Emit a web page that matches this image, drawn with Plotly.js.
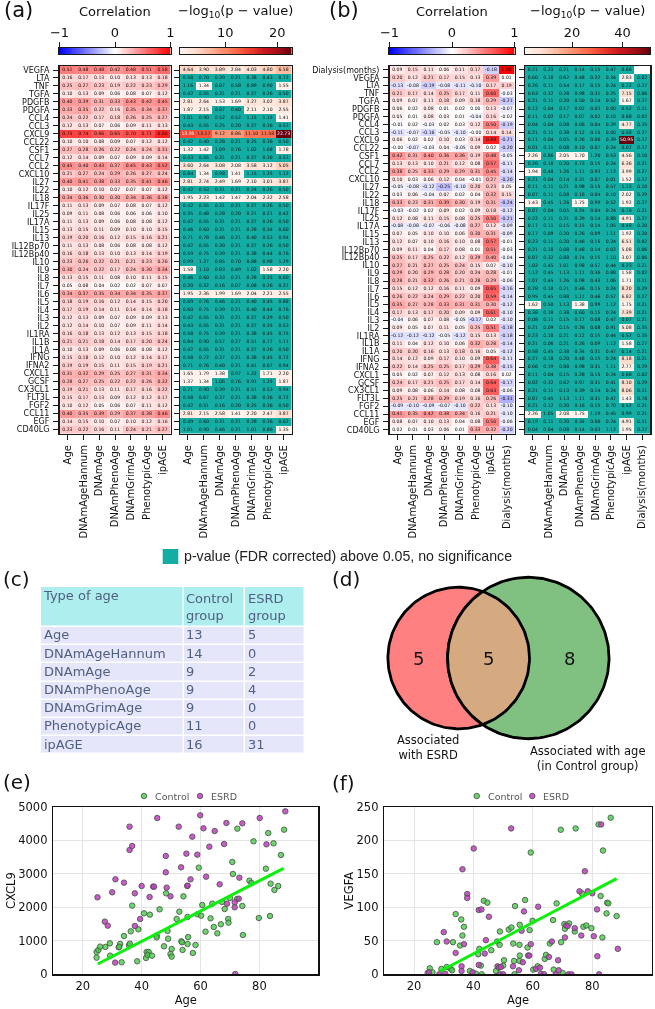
<!DOCTYPE html>
<html><head><meta charset="utf-8">
<script src="https://cdn.plot.ly/plotly-3.0.1.min.js"></script>
<style>html,body{margin:0;padding:0;background:#fff}#g{width:655px;height:1009px}.main-svg{will-change:transform}</style>
</head><body><div id="g"></div>
<script>
const ageCols=["Age","DNAmAgeHannum","DNAmAge","DNAmPhenoAge","DNAmGrimAge","PhenotypicAge","ipAGE"];
const ageColsB=ageCols.concat(["Dialysis(months)"]);
const rowsA=["VEGFA","LTA","TNF","TGFA","PDGFB","PDGFA","CCL4","CCL3","CXCL9","CCL22","CSF1","CCL7","CCL2","CXCL10","IL27","IL22","IL18","IL17F","IL25","IL17A","IL15","IL13","IL12Bp70","IL12Bp40","IL10","IL9","IL8","IL7","IL6","IL5","IL4","IL3","IL2","IL1RA","IL1B","IL1A","IFNG","IFNA2","CXCL1","GCSF","CX3CL1","FLT3L","FGF2","CCL11","EGF","CD40LG"];
const rowsB=["Dialysis(months)","VEGFA","LTA","TNF","TGFA","PDGFB","PDGFA","CCL4","CCL3","CXCL9","CCL22","CSF1","CCL7","CCL2","CXCL10","IL27","IL22","IL18","IL17F","IL25","IL17A","IL15","IL13","IL12Bp70","IL12Bp40","IL10","IL9","IL8","IL7","IL6","IL5","IL4","IL3","IL2","IL1RA","IL1B","IL1A","IFNG","IFNA2","CXCL1","GCSF","CX3CL1","FLT3L","FGF2","CCL11","EGF","CD40LG"];
const corrA=[[.51,.48,.48,.42,.48,.51,.58],[.16,.17,.13,.10,.13,.13,.18],[.25,.27,.23,.19,.22,.23,.29],[.10,.13,.09,.06,.08,.07,.12],[.40,.39,.31,.33,.43,.42,.45],[.33,.35,.22,.16,.35,.34,.37],[.24,.22,.17,.18,.26,.25,.27],[.12,.13,.07,.06,.09,.11,.13],[.75,.74,.66,.65,.70,.71,.86],[.10,.10,.08,.09,.07,.12,.12],[.27,.28,.26,.22,.24,.24,.31],[.12,.14,.09,.07,.09,.09,.14],[.45,.40,.43,.37,.45,.43,.52],[.21,.27,.24,.29,.26,.27,.24],[.40,.41,.38,.33,.35,.41,.46],[.10,.12,.10,.07,.07,.07,.12],[.34,.36,.30,.30,.34,.36,.38],[.11,.13,.09,.07,.08,.07,.12],[.09,.11,.08,.06,.06,.06,.10],[.11,.13,.09,.06,.08,.08,.12],[.13,.15,.11,.09,.10,.10,.15],[.19,.20,.16,.12,.15,.16,.21],[.11,.13,.08,.06,.08,.08,.12],[.16,.18,.13,.10,.13,.14,.19],[.23,.26,.22,.21,.21,.23,.26],[.30,.24,.22,.17,.24,.30,.34],[.13,.15,.11,.08,.10,.11,.15],[.05,.08,.04,.02,.02,.07,.07],[.34,.37,.35,.34,.34,.35,.37],[.18,.19,.16,.12,.14,.15,.20],[.17,.19,.14,.11,.14,.14,.18],[.12,.13,.09,.07,.09,.09,.13],[.12,.14,.10,.07,.09,.11,.14],[.16,.18,.13,.12,.13,.15,.18],[.21,.21,.18,.14,.17,.20,.24],[.10,.13,.09,.06,.08,.08,.12],[.15,.18,.12,.10,.12,.14,.17],[.19,.19,.15,.11,.15,.19,.21],[.31,.32,.29,.25,.27,.31,.34],[.28,.27,.25,.22,.22,.26,.32],[.19,.21,.13,.11,.17,.16,.22],[.15,.17,.13,.09,.12,.12,.17],[.10,.12,.05,.06,.07,.11,.12],[.40,.35,.39,.29,.37,.38,.46],[.14,.15,.10,.07,.10,.12,.16],[.23,.22,.16,.11,.24,.21,.27]];
const pA=[[4.64,3.90,3.89,2.84,4.03,4.80,6.58],[.58,.70,.39,.21,.38,.43,.72],[1.16,1.34,.87,.58,.89,.90,1.55],[.42,.55,.31,.21,.27,.26,.50],[2.81,2.64,1.53,1.69,3.27,3.02,3.87],[1.87,2.15,.87,.40,2.11,2.10,2.55],[1.01,.90,.52,.52,1.15,1.15,1.41],[.43,.55,.25,.20,.27,.36,.53],[13.95,13.17,9.12,8.86,11.10,11.58,22.73],[.42,.40,.28,.21,.25,.36,.50],[1.32,1.42,1.09,.76,1.02,1.08,1.78],[.43,.55,.31,.21,.27,.30,.53],[3.60,2.64,3.08,2.08,3.58,3.12,5.05],[.84,1.34,.98,1.41,1.15,1.25,1.12],[2.81,2.74,2.49,1.69,2.10,3.01,3.87],[.42,.53,.31,.21,.24,.26,.50],[1.95,2.23,1.42,1.47,2.04,2.32,2.58],[.42,.55,.31,.21,.27,.26,.50],[.35,.48,.28,.20,.21,.21,.42],[.42,.55,.31,.21,.27,.26,.50],[.46,.60,.31,.21,.28,.34,.60],[.71,.78,.46,.21,.40,.53,.94],[.42,.55,.30,.21,.27,.26,.50],[.59,.75,.39,.21,.38,.44,.76],[.99,1.27,.85,.70,.88,.98,1.29],[1.58,1.10,.83,.49,1.02,1.58,2.20],[.46,.60,.33,.21,.28,.35,.60],[.20,.32,.16,.07,.08,.26,.27],[1.95,2.36,1.99,1.69,2.04,2.21,2.55],[.69,.76,.46,.21,.40,.45,.88],[.60,.75,.39,.21,.40,.44,.76],[.42,.55,.31,.21,.27,.29,.50],[.43,.55,.31,.21,.27,.35,.53],[.58,.75,.39,.21,.38,.45,.75],[.84,.90,.57,.27,.51,.77,1.11],[.42,.55,.31,.21,.27,.26,.50],[.58,.72,.37,.21,.38,.45,.72],[.71,.76,.40,.21,.41,.67,.94],[1.65,1.79,1.38,.97,1.22,1.71,2.20],[1.37,1.34,1.06,.76,.91,1.25,1.87],[.71,.90,.39,.21,.51,.53,.94],[.58,.67,.37,.21,.38,.36,.72],[.42,.51,.16,.20,.25,.36,.50],[2.81,2.15,2.58,1.41,2.20,2.47,3.87],[.49,.60,.31,.21,.28,.36,.62],[1.01,.90,.46,.21,1.01,.86,1.35]];
const corrB=[[.09,.15,.11,.06,.11,.17,-.18,1.00],[.20,.12,.21,.17,.15,.13,.39,.01],[-.13,-.08,-.19,-.08,-.11,-.10,.17,.19],[.21,.17,.14,.25,.17,.11,.60,-.03],[.09,.07,.11,.18,.09,.18,.29,-.21],[.06,.02,.08,.01,.02,.00,.13,-.07],[.05,.01,.08,.03,.01,-.04,.16,-.02],[-.01,.02,-.03,.02,.03,.12,.50,-.19],[-.11,-.07,-.16,-.05,-.10,-.001,.14,.14],[.06,.02,.02,.10,.03,.14,.88,-.21],[-.001,-.07,-.03,.04,-.05,.09,.02,-.20],[.42,.31,.40,.36,.36,.19,.48,-.05],[.13,.13,.10,.21,.12,.08,.57,-.11],[.38,.25,.33,.29,.29,.31,.45,-.14],[.10,.03,.06,.12,.04,-.01,.27,-.20],[-.05,-.08,-.12,-.25,-.10,.20,.23,.05],[.03,.06,-.04,.07,.02,.04,.32,.15],[.33,.23,.31,.39,.30,.19,.31,-.24],[-.03,-.02,.02,.09,.02,.09,.18,-.12],[.12,.08,.11,.15,.08,.25,.50,-.21],[-.08,-.08,-.07,-.06,-.08,.27,.12,-.09],[.07,.05,.10,.10,.06,.30,.31,-.09],[.12,.07,.10,.16,.10,.08,.57,-.01],[.09,.11,.04,.17,.08,.01,.51,-.03],[.25,.17,.25,.22,.12,.29,.40,-.04],[.27,.21,.27,.25,.24,.15,.07,-.10],[.29,.20,.29,.28,.20,.24,.28,-.01],[.28,.21,.32,.26,.21,.28,.29,-.06],[.15,.12,.12,.16,.11,.09,.65,-.16],[.26,.22,.24,.29,.22,.20,.59,-.14],[.35,.27,.28,.33,.31,.31,.30,-.12],[.17,.13,.17,.20,.09,.09,.61,-.10],[-.04,.06,.07,.08,-.05,-.17,.02,-.10],[.09,.05,.07,.11,.05,.25,.51,-.18],[-.12,-.12,-.12,-.05,-.12,.15,.13,-.18],[.11,.04,.12,.10,.06,.32,.28,-.14],[.20,.20,.16,.13,.18,.16,.05,-.12],[.14,.12,.09,.17,.10,.09,.64,-.11],[.22,.14,.25,.25,.17,.29,.38,-.15],[.05,.02,.07,.12,.13,.08,.16,.02],[.24,.17,.21,.25,.17,.14,.64,-.17],[.09,.08,.06,.14,.08,.08,.63,-.06],[.25,.21,.28,.29,.19,.16,.26,-.31],[-.09,-.10,-.09,-.07,-.10,.22,.13,-.10],[.41,.35,.42,.38,.34,.16,.21,-.10],[.08,.07,.10,.13,.04,.08,.50,-.06],[.02,.01,.03,.06,.01,.33,.32,-.20]];
const pB=[[.21,.23,.21,.14,.15,.47,.68,null],[.60,.18,.62,.48,.22,.34,2.83,.02],[.26,.11,.54,.17,.15,.24,.72,.37],[.63,.32,.28,.98,.31,.25,7.15,.06],[.21,.11,.20,.50,.14,.52,1.67,.37],[.12,.04,.17,.02,.03,.00,.52,.11],[.11,.02,.17,.07,.02,.10,.68,.02],[.04,.04,.08,.06,.04,.29,4.77,.35],[.21,.11,.38,.12,.15,.00,.58,.27],[.11,.04,.05,.26,.06,.39,50.95,.37],[.01,.11,.08,.10,.07,.24,.07,.37],[2.26,.86,2.05,1.70,1.20,.53,4.56,.10],[.26,.18,.20,.73,.15,.24,6.36,.21],[1.94,.48,1.26,1.11,.93,1.12,3.99,.27],[.21,.04,.14,.31,.07,.01,1.52,.37],[.11,.11,.21,.98,.15,.57,1.13,.10],[.07,.11,.08,.16,.04,.10,2.02,.29],[1.43,.45,1.26,1.75,.99,.52,1.92,.37],[.07,.04,.05,.24,.04,.24,.76,.21],[.22,.11,.21,.39,.14,.88,4.91,.37],[.17,.11,.15,.15,.14,1.05,.48,.20],[.17,.09,.20,.26,.09,1.11,1.92,.20],[.23,.11,.20,.46,.15,.24,6.51,.02],[.21,.18,.08,.48,.14,.02,5.08,.06],[.87,.32,.88,.74,.15,1.10,3.07,.06],[1.02,.45,1.01,.98,.57,.44,.23,.21],[1.12,.45,1.13,1.11,.36,.88,1.58,.02],[1.07,.45,1.26,.98,.43,1.06,1.71,.11],[.28,.18,.21,.46,.15,.24,8.20,.29],[.95,.45,.88,1.11,.46,.57,6.82,.27],[1.62,.50,1.13,1.38,.99,1.12,1.75,.21],[.38,.18,.38,.60,.15,.24,7.39,.21],[.08,.11,.15,.17,.08,.47,.07,.21],[.21,.09,.15,.26,.08,.91,5.08,.35],[.23,.18,.21,.12,.15,.44,.52,.35],[.21,.06,.21,.26,.09,1.12,1.58,.27],[.58,.45,.38,.34,.31,.47,.14,.21],[.27,.18,.20,.48,.15,.24,8.18,.21],[.66,.19,.88,.98,.31,1.11,2.77,.29],[.11,.04,.15,.28,.15,.24,.68,.02],[.82,.32,.62,.97,.31,.41,8.10,.29],[.21,.11,.13,.39,.14,.24,8.06,.11],[.87,.45,1.13,1.11,.31,.47,1.43,.78],[.21,.12,.20,.16,.15,.70,.52,.21],[2.26,1.05,2.08,1.75,1.19,.45,.99,.21],[.19,.11,.20,.34,.06,.24,4.91,.11],[.04,.04,.08,.14,.03,1.12,1.95,.37]];
const tableAges=["Age","DNAmAgeHannum","DNAmAge","DNAmPhenoAge","DNAmGrimAge","PhenotypicAge","ipAGE"];
const tableControl=[13,14,9,9,9,11,16];
const tableESRD=[5,0,2,4,0,0,31];
const tableHeader=["Type of age","Control<br>group","ESRD<br>group"];
const vennCounts=[5,5,8];
const eCtlAge=[24.7,24.7,25.3,25.9,27.7,29.2,29.3,32.2,32.7,32.4,33.2,34,35.7,36,36.3,36.8,38.5,38.9,40.8,41.5,41.7,42.4,42,42.8,43.5,45.1,45.1,46.1,47.6,48.3,48.8,49,49.8,50.2,50.2,51.9,52.8,53.5,53.7,53.9,54.2,55.6,55.6,55.8,57.4,58.3,59,59.4,60.2,60.6,61.7,63.4,64,64.5,65.7,66.9,67.3,68.2,69.4,69.5,70,70.8,71,72.4,72.5,74.2,74.4,78,76.6,77.3,79.8,82.2,83,83.8,83.6,84.8,85.1,86.4,87.3,88.4];
const eCtlVal=[498,667,727,827,817,926,558,807,906,820,359,1145,867,916,1285,2052,388,1345,1823,488,667,667,578,1783,558,1155,1105,1942,837,2420,1295,1066,608,757,528,1653,1872,986,956,727,2330,906,1713,1115,637,876,1793,3187,1753,2072,1275,1673,2112,1414,1225,1494,2161,1952,1653,1544,2281,3357,2998,2251,4353,2042,1175,3975,2799,2729,1683,3157,4223,2709,1743,3914,2520,2639,3566,4323];
const eEsrdAge=[25,27.5,28.5,30,31,31.1,34,35.9,35.9,36.8,37.7,37.7,39.5,40,42.7,43.9,44.2,45.3,48.2,48.2,48.5,49.8,52.6,53.4,55.2,55.5,55.6,56.6,57.2,58.9,59.9,61,61.9,63,64.8,66.5,68,68.8,69,71.6,71.6,71.8,73,73.2,74.2,80.1,82.4,88.8];
const eEsrdVal=[2300,1574,1454,2450,349,2839,2739,3715,4412,3834,2420,1444,1653,2639,2310,2620,2620,4671,3536,3048,2590,2330,4412,3197,3606,2640,2650,2839,4114,3576,4751,4363,2918,3815,4283,2689,3894,4522,2112,2151,2002,10,2261,2888,4512,4671,3884,4870];
const eFitAge=[25.1,88.2];
const eFitVal=[309,3167];
const fCtlAge=[25.3,24.6,26.2,27.7,29.2,31,32.4,32.8,33.1,34,35.5,35.9,36.3,36.8,38.8,40.8,41.6,42,42.5,42.8,43.5,44.7,46,47.6,48,48.8,48.9,50,50.3,51.9,52.8,53.4,53.7,53.8,54,55.5,55.5,55.6,55.6,57.4,58.2,58.9,59.3,60.1,59.9,61.6,64,64.4,65.7,66.8,67,68,69.5,69.4,70,70.6,70.8,72.2,74.1,74.4,76.5,77,78,79.7,82.1,82.8,83.6,83.4,84.8,85,85.4,86.2,88.2];
const fCtlVal=[9,2,3,48,8,11,8,6,48,90,43,82,58,71,5,1,30,38,13,0,110,107,36,5,49,44,64,13,21,67,70,46,20,0,102,20,44,74,28,111,40,66,182,7,80,12,23,29,46,81,7,106,48,216,2,75,68,76,64,218,121,71,73,69,224,117,185,55,91,107,106,234,87];
const fEsrdAge=[25,28.5,30,31,30.5,34,36,36,36.3,36.8,37.9,37.9,39.7,40.1,41.8,42.7,41.8,43.8,44.2,45.2,48.1,48.6,49.2,48.9,50,52.7,53.3,55.3,56.2,56.6,57,58.4,58.8,59.3,61,61.8,62.4,62.7,63.8,65.4,66.4,68.5,68.7,67.7,70.8,71.2,71.7,72,73,74.1,75.7,76.3,77.5,78.5,80,80.5,81.6,81.7,82.3,83,88.6];
const fEsrdVal=[3,0,63,49,1,32,12,5,157,45,120,114,3,188,96,97,14,31,51,86,12,10,11,0,0,218,12,6,65,18,94,28,28,45,8,101,10,1,0,26,49,21,6,0,55,73,72,0,0,69,124,58,154,124,121,57,97,27,0,224,38];
const fFitAge=[28.8,88.2];
const fFitVal=[4.5,143];

const W=655,H=1009,P_MIN=1.3,TEAL='#14ada4',INK='#1a1a1a',FONT='"DejaVu Sans"';
const REDS=['#fff5f0','#fee0d2','#fcbba1','#fc9272','#fb6a4a','#ef3b2c','#cb181d','#a50f15','#67000d'];
const BWR=[[0,'#0000ff'],[.5,'#ffffff'],[1,'#ff0000']];
const GREEN_FILL='rgba(70,205,70,.8)',PURPLE_FILL='rgba(195,60,195,.85)',MARK_EDGE='rgba(75,85,75,.85)';
const X=p=>p/W, Y=p=>1-p/H;
const layout={width:W,height:H,margin:{l:0,r:0,t:0,b:0},paper_bgcolor:'#fff',plot_bgcolor:'#fff',font:{family:FONT,color:'#111',size:10},annotations:[],shapes:[],hovermode:false,showlegend:false};
const traces=[];
let axN=0;
function axes(l,r,t,b,xo,yo){axN++;const s=axN===1?'':axN;
 layout['xaxis'+s]=Object.assign({domain:[X(l),X(r)],anchor:'y'+s,fixedrange:true},xo);
 layout['yaxis'+s]=Object.assign({domain:[Y(b),Y(t)],anchor:'x'+s,fixedrange:true},yo);
 return {x:'x'+s,y:'y'+s};}
function pScale(max){const t=P_MIN/max,c=[[0,TEAL],[t,TEAL]];REDS.forEach((k,i)=>c.push([t+(1-t)*i/8,k]));return c;}
function heat(l,r,cols,rows,z,cs,zmin,zmax,showY,whiteAbove){
 const frame={showline:true,mirror:true,linecolor:INK,linewidth:1.5,showgrid:false,zeroline:false,ticks:'outside',ticklen:5,tickwidth:1,tickcolor:INK};
 const a=axes(l,r,66,433.6,
  Object.assign({type:'category',categoryorder:'array',categoryarray:cols,range:[-.5,cols.length-.5],tickmode:'array',tickvals:cols,ticktext:cols,tickangle:-90,tickfont:{size:10},ticklabelstandoff:1},frame),
  Object.assign({type:'category',categoryorder:'array',categoryarray:rows,range:[rows.length-.5,-.5],tickmode:'array',tickvals:rows,ticktext:rows,showticklabels:showY,tickfont:{size:8},ticklabelstandoff:2},frame));
 traces.push({type:'heatmap',x:cols,y:rows,z:z,colorscale:cs,zmin:zmin,zmax:zmax,showscale:false,hoverinfo:'skip',xaxis:a.x,yaxis:a.y});
 const tx=[],ty=[],tt=[],tc=[];
 z.forEach((row,i)=>row.forEach((v,j)=>{if(v===null)return;tx.push(cols[j]);ty.push(rows[i]);tt.push(v.toFixed(2));tc.push(v>whiteAbove?'#fff':'#111');}));
 traces.push({type:'scatter',mode:'text',x:tx,y:ty,text:tt,textposition:'middle center',textfont:{size:4.6,color:tc,family:FONT},hoverinfo:'skip',xaxis:a.x,yaxis:a.y});
}
function cbar(l,r,vmin,vmax,ticks,cs,zmin,zmax){
 const a=axes(l,r,48,54,{side:'top',range:[vmin,vmax],tickmode:'array',tickvals:ticks,ticks:'outside',ticklen:5,tickwidth:1,tickcolor:INK,tickfont:{size:13},showline:true,mirror:true,linecolor:INK,linewidth:1.2,showgrid:false,zeroline:false},
  {range:[-.5,.5],showticklabels:false,ticks:'',showline:true,mirror:true,linecolor:INK,linewidth:1.2,showgrid:false,zeroline:false});
 const n=120,xs=[],zs=[];for(let i=0;i<n;i++){const v=vmin+(vmax-vmin)*(i+.5)/n;xs.push(v);zs.push(v);}
 traces.push({type:'heatmap',x:xs,y:[0],z:[zs],colorscale:cs,zmin:zmin,zmax:zmax,showscale:false,hoverinfo:'skip',xaxis:a.x,yaxis:a.y});
}
function note(px,py,text,size,extra){layout.annotations.push(Object.assign({xref:'paper',yref:'paper',x:X(px),y:Y(py),text:text,showarrow:false,font:{size:size,family:FONT,color:'#111'},xanchor:'center',yanchor:'middle'},extra||{}));}

const maxA=22.73,maxB=50.95;
heat(59.5,170.5,ageCols,rowsA,corrA,BWR,-1,1,true,9);
heat(180,291.5,ageCols,rowsA,pA,pScale(maxA),0,maxA,false,maxA*.58);
heat(389.5,514.5,ageColsB,rowsB,corrB,BWR,-1,1,true,9);
heat(525,650,ageColsB,rowsB,pB,pScale(maxB),0,maxB,false,maxB*.6);
cbar(59.5,170.5,-1,1,[-1,0,1],BWR,-1,1);
cbar(180,291.5,P_MIN,maxA,[10,20],pScale(maxA),0,maxA);
cbar(389.5,514.5,-1,1,[-1,0,1],BWR,-1,1);
cbar(525,650,P_MIN,maxB,[20,40],pScale(maxB),0,maxB);

note(115,11.5,'Correlation',13);
note(235.5,11.5,'−log<sub>10</sub>(p − value)',13);
note(452,11.5,'Correlation',13);
note(587.5,11.5,'−log<sub>10</sub>(p − value)',13);
note(2,10,'(a)',21,{xanchor:'left'});
note(327,10,'(b)',21,{xanchor:'left'});
note(1,579,'(c)',20,{xanchor:'left'});
note(330,579,'(d)',20,{xanchor:'left'});
note(1,782,'(e)',20,{xanchor:'left'});
note(330,783,'(f)',20,{xanchor:'left'});

/* significance key */
layout.shapes.push({type:'rect',xref:'paper',yref:'paper',x0:X(162.7),x1:X(178.3),y0:Y(564),y1:Y(549),fillcolor:TEAL,line:{width:0}});
note(182,556,'p-value (FDR corrected) above 0.05, no significance',14.2,{xanchor:'left',font:{size:14.2,family:'"Liberation Sans"',color:'#222'}});

/* table: cell grid drawn as a heatmap, so row heights can stay tight */
const colEdges=[0,142.5,203.5,264];
const rowEdges=[0,40];tableAges.forEach((_,i)=>rowEdges.push(40+18.2*(i+1)));
const ta=axes(41,305,587,rowEdges[rowEdges.length-1]+587,{visible:false,range:[0,264]},{visible:false,range:[rowEdges[rowEdges.length-1],0]});
traces.push({type:'heatmap',x:colEdges,y:rowEdges,z:[[0,0,0]].concat(tableAges.map(()=>[1,1,1])),colorscale:[[0,'#afeeee'],[1,'#e6e6fa']],zmin:0,zmax:1,showscale:false,xgap:1.5,ygap:1.5,hoverinfo:'skip',xaxis:ta.x,yaxis:ta.y});
const TABLE_INK='#4f5f80';
const colText=[3,145,207];
const rowMid=i=>(rowEdges[i+1]+rowEdges[i+2])/2;
[tableAges,tableControl,tableESRD].forEach((col,c)=>{
 traces.push({type:'scatter',mode:'text',x:col.map(()=>colText[c]),y:col.map((_,i)=>rowMid(i)),text:col.map(String),textposition:'middle right',textfont:{family:FONT,size:13,color:TABLE_INK},hoverinfo:'skip',xaxis:ta.x,yaxis:ta.y});
 traces.push({type:'scatter',mode:'text',x:[colText[c]],y:[c===0?10:21],text:[tableHeader[c]],textposition:'middle right',textfont:{family:FONT,size:13,color:TABLE_INK},hoverinfo:'skip',xaxis:ta.x,yaxis:ta.y});
});

/* venn: circle areas follow the set sizes */
const pxPerUnit=22.39,sizeA=vennCounts[0]+vennCounts[1],sizeB=vennCounts[1]+vennCounts[2];
const rA=Math.sqrt(sizeA),rB=Math.sqrt(sizeB),dist=3.109;
const vL=380,vR=620,vT=570,vB=745,cxA=458.7,cyV=658;
const va=axes(vL,vR,vT,vB,{visible:false,range:[(vL-cxA)/pxPerUnit,(vR-cxA)/pxPerUnit]},{visible:false,range:[(cyV-vB)/pxPerUnit,(cyV-vT)/pxPerUnit]});
function arc(cx,r,a0,a1,n){const o=[];for(let i=0;i<=n;i++){const t=a0+(a1-a0)*i/n;o.push([cx+r*Math.cos(t),r*Math.sin(t)]);}return o;}
function vtrace(pts,fill){traces.push({type:'scatter',mode:'lines',x:pts.map(p=>p[0]),y:pts.map(p=>p[1]),fill:'toself',fillcolor:fill,line:{color:'#000',width:2.8},hoverinfo:'skip',xaxis:va.x,yaxis:va.y});}
vtrace(arc(0,rA,0,2*Math.PI,180),'#ff8080');
vtrace(arc(dist,rB,0,2*Math.PI,180),'#80c080');
const ix=(dist*dist+rA*rA-rB*rB)/(2*dist),hA=Math.acos(ix/rA),hB=Math.acos((dist-ix)/rB);
vtrace(arc(0,rA,-hA,hA,60).concat(arc(dist,rB,Math.PI-hB,Math.PI+hB,60)).concat([[ix,-Math.sqrt(rA*rA-ix*ix)]]),'#d6aa80');
const vx=[418,488,569].map(p=>(p-cxA)/pxPerUnit);
vennCounts.forEach((c,i)=>layout.annotations.push({xref:va.x,yref:va.y,x:vx[i],y:0,text:String(c),showarrow:false,font:{size:18,family:FONT,color:'#111'}}));
note(428,747.5,'Associated<br>with ESRD',11.5);
note(587,758.5,'Associated with age<br>(in Control group)',11.5);

/* scatters */
function scatter(l,r,yMax,yDtick,yTitle,ca,cv,ea,ev,fa,fv){
 const base={showline:true,mirror:true,linecolor:'#111',linewidth:1.5,gridcolor:'#e4e4e4',gridwidth:1,zeroline:false,ticks:'',tickfont:{size:11.5}};
 const a=axes(l,r,807,974.3,Object.assign({range:[10,100],tickmode:'array',tickvals:[20,40,60,80],title:{text:'Age',font:{size:11.5},standoff:3}},base),
  Object.assign({range:[0,yMax],dtick:yDtick,ticklabelstandoff:2,title:{text:yTitle,font:{size:11.5},standoff:0}},base));
 const mk=(c)=>({size:5.5,color:c,line:{color:MARK_EDGE,width:1}});
 traces.push({type:'scatter',mode:'markers',name:'Control',x:ca,y:cv,marker:mk(GREEN_FILL),xaxis:a.x,yaxis:a.y,hoverinfo:'skip'});
 traces.push({type:'scatter',mode:'markers',name:'ESRD',x:ea,y:ev,marker:mk(PURPLE_FILL),xaxis:a.x,yaxis:a.y,hoverinfo:'skip'});
 traces.push({type:'scatter',mode:'lines',x:fa,y:fv,line:{color:'#0bf00b',width:3},xaxis:a.x,yaxis:a.y,hoverinfo:'skip'});
}
scatter(53.3,318.3,5000,1000,'CXCL9',eCtlAge,eCtlVal,eEsrdAge,eEsrdVal,eFitAge,eFitVal);
scatter(384.3,651.7,250,50,'VEGFA',fCtlAge,fCtlVal,fEsrdAge,fEsrdVal,fFitAge,fFitVal);

/* group keys above the two scatters */
const ka=axes(0,655,790,802,{visible:false,range:[0,655]},{visible:false,range:[0,1]});
function key(name,px,fill){traces.push({type:'scatter',mode:'markers',name:name,x:[px],y:[.5],marker:{size:5.5,color:fill,line:{color:MARK_EDGE,width:1}},hoverinfo:'skip',xaxis:ka.x,yaxis:ka.y});
 note(px+9,796,name,9.5,{xanchor:'left',font:{size:9.5,family:FONT,color:'#555'}});}
key('Control',144,GREEN_FILL);key('ESRD',200,PURPLE_FILL);
key('Control',476.7,GREEN_FILL);key('ESRD',532.3,PURPLE_FILL);

Plotly.newPlot('g',traces,layout,{displayModeBar:false,responsive:false,staticPlot:true});
</script></body></html>
